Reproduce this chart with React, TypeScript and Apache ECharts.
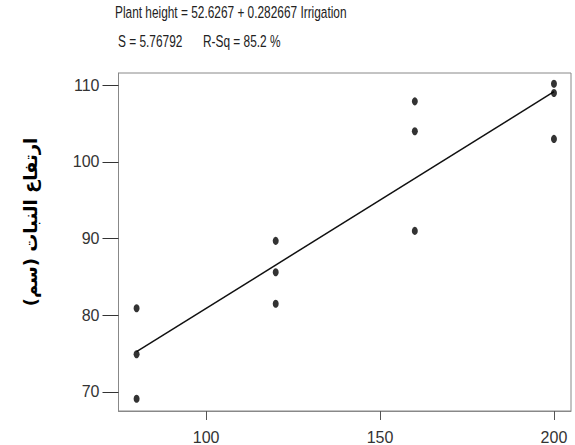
import React, { useEffect, useRef } from "react";
import * as echarts from "echarts";

const irrigation80 = [80, 80, 80];
const height80 = [80.9, 74.9, 69.1];
const irrigation120 = [120, 120, 120];
const height120 = [89.7, 85.6, 81.5];
const irrigation160 = [160, 160, 160];
const height160 = [107.9, 104.0, 91.0];
const irrigation200 = [200, 200, 200];
const height200 = [110.2, 109.0, 103.0];

const intercept = 52.6267;
const slope = 0.282667;
const fitX = [80, 200];

const xTicks = [100, 150, 200];
const yTicks = [70, 80, 90, 100, 110];

const titleLine1 = "Plant height = 52.6267 + 0.282667 Irrigation";
const titleLine2Left = "S = 5.76792";
const titleLine2Right = "R-Sq = 85.2 %";
const yName = "ارتفاع النبات (سم)";

const SANS = "'Liberation Sans', Arial, sans-serif";

export default function App() {
  const ref = useRef<HTMLDivElement>(null);
  useEffect(() => {
    document.body.style.margin = "0";
    if (!ref.current) return;
    const chart = echarts.init(ref.current, undefined, { renderer: "svg" });
    const points: number[][] = [];
    [
      [irrigation80, height80],
      [irrigation120, height120],
      [irrigation160, height160],
      [irrigation200, height200],
    ].forEach(([xs, ys]) => xs.forEach((x, i) => points.push([x, ys[i]])));
    const fitLine = fitX.map((x) => [x, intercept + slope * x]);

    const headStyle = {
      fontFamily: SANS,
      fontSize: 16.5,
      fill: "#222",
      align: "left",
      verticalAlign: "middle",
    };

    chart.setOption({
      animation: false,
      backgroundColor: "#ffffff",
      graphic: [
        {
          type: "text",
          x: 115,
          y: 12.5,
          scaleX: 0.72,
          style: { ...headStyle, text: titleLine1 },
        },
        {
          type: "text",
          x: 118,
          y: 41.5,
          scaleX: 0.72,
          style: { ...headStyle, text: titleLine2Left },
        },
        {
          type: "text",
          x: 203,
          y: 41.5,
          scaleX: 0.72,
          style: { ...headStyle, text: titleLine2Right },
        },
        {
          type: "text",
          x: 30,
          y: 222,
          rotation: Math.PI / 2,
          style: {
            text: yName,
            fontFamily: "'DejaVu Sans', sans-serif",
            fontWeight: "bold",
            fontSize: 18,
            fill: "#000",
            align: "center",
            verticalAlign: "middle",
          },
        },
      ],
      grid: {
        left: 118.5,
        right: 4,
        top: 73,
        bottom: 31.5,
        show: true,
        borderColor: "#888",
        borderWidth: 1,
        backgroundColor: "#fff",
      },
      xAxis: {
        type: "value",
        min: 74.8,
        max: 204.9,
        splitLine: { show: false },
        axisLine: { show: true, lineStyle: { color: "#888", width: 1 } },
        axisTick: {
          show: true,
          customValues: xTicks,
          length: 9,
          lineStyle: { color: "#555" },
        },
        axisLabel: {
          customValues: xTicks,
          margin: 18,
          fontFamily: SANS,
          fontSize: 16,
          color: "#333",
        },
      },
      yAxis: {
        type: "value",
        min: 67.5,
        max: 111.6,
        splitLine: { show: false },
        axisLine: { show: true, lineStyle: { color: "#888", width: 1 } },
        axisTick: {
          show: true,
          customValues: yTicks,
          length: 16,
          lineStyle: { color: "#333" },
        },
        axisLabel: {
          customValues: yTicks,
          margin: 19,
          fontFamily: SANS,
          fontSize: 16,
          color: "#333",
        },
      },
      series: [
        {
          type: "line",
          data: fitLine,
          symbol: "none",
          lineStyle: { color: "#111", width: 1.5 },
          z: 2,
        },
        {
          type: "scatter",
          data: points,
          symbol: "circle",
          symbolSize: [6, 8],
          itemStyle: { color: "#000" },
          z: 3,
        },
      ],
    });
    return () => chart.dispose();
  }, []);
  return <div ref={ref} style={{ width: 575, height: 445 }} />;
}
